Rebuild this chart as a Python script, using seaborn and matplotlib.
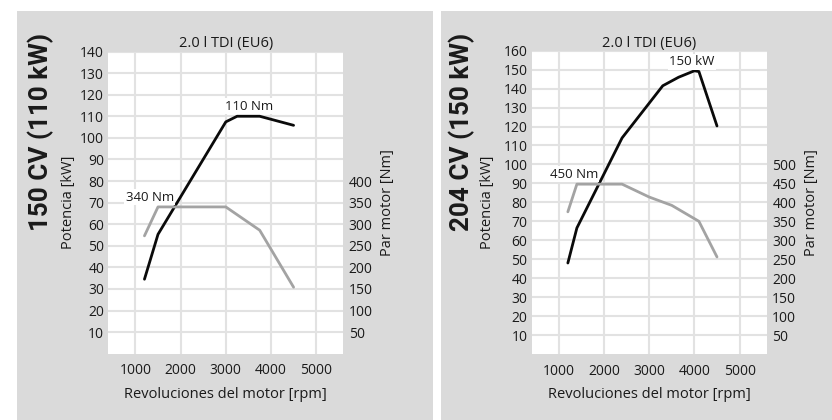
import matplotlib
matplotlib.use("Agg")
import matplotlib.pyplot as plt
import seaborn as sns
from matplotlib.patches import Rectangle

# datos
rpm_150_kw = [1200, 1500, 3000, 3250, 3750, 4500]
kw_150 = [34.5, 55.3, 107.4, 110, 110, 105.8]
rpm_150_nm = [1200, 1500, 3000, 3750, 4500]
nm_150 = [273, 340, 340, 286, 154]

rpm_204_kw = [1200, 1400, 2400, 3300, 3650, 4000, 4100, 4500]
kw_204 = [48, 66.5, 114, 141.5, 146, 149.4, 149, 120.3]
rpm_204_nm = [1200, 1400, 2400, 3000, 3500, 4100, 4500]
nm_204 = [375, 448, 448, 414, 392, 350, 256]

rpm_ticks = [1000, 2000, 3000, 4000, 5000]
kw_ticks_150 = list(range(10, 141, 10))
nm_ticks_150 = list(range(50, 401, 50))
kw_ticks_204 = list(range(10, 161, 10))
nm_ticks_204 = list(range(50, 501, 50))

sns.set_theme(style="white")
plt.rcParams['font.family'] = ['Open Sans', 'DejaVu Sans']

W, H = 832, 420
fig = plt.figure(figsize=(W / 100, H / 100), dpi=100)
fig.patch.set_facecolor('white')

PANEL = '#dadada'
GRID = '#e2e2e2'
BLACK = '#0a0a0a'
GRAY = '#a3a3a3'
TXT = '#1a1a1a'
TICK_FS = 10
LAB_FS = 10.5


def px_rect(x0, y0, x1, y1):
    # pixel box (desde arriba) -> fracciones de figura
    return [x0 / W, (H - y1) / H, (x1 - x0) / W, (y1 - y0) / H]


for x0, x1 in [(17, 433), (441, 832)]:
    fig.patches.append(Rectangle((x0 / W, 0), (x1 - x0) / W, (H - 11) / H,
                                 transform=fig.transFigure, facecolor=PANEL,
                                 edgecolor='none', zorder=-5))


def draw_chart(box, rpm_kw, kw, rpm_nm, nm, kw_max, kw_ticks, nm_ticks,
               big_label, big_x, ann_nm, lab_x):
    ax = fig.add_axes(px_rect(*box))
    ax.set_facecolor('white')
    ax.set_xlim(400, 5600)
    ax.set_ylim(0, kw_max)
    ax.set_xticks(rpm_ticks)
    ax.set_yticks(kw_ticks)
    ax.grid(True, color=GRID, linewidth=1.5)
    ax.set_axisbelow(True)
    for s in ax.spines.values():
        s.set_visible(False)
    ax.tick_params(axis='both', length=0, labelsize=TICK_FS, colors=TXT)
    ax.tick_params(axis='x', pad=7)
    ax.tick_params(axis='y', pad=3)

    sns.lineplot(x=rpm_kw, y=kw, ax=ax, color=BLACK, linewidth=2.0, zorder=3)

    ax2 = ax.twinx()
    ax2.set_ylim(0, kw_max * 5)
    ax2.set_yticks(nm_ticks)
    for s in ax2.spines.values():
        s.set_visible(False)
    ax2.tick_params(axis='y', length=0, labelsize=TICK_FS, colors=TXT, pad=4)
    sns.lineplot(x=rpm_nm, y=nm, ax=ax2, color=GRAY, linewidth=2.0)
    ax2.set_xlim(400, 5600)

    ax.set_title('2.0 l TDI (EU6)', fontsize=LAB_FS, color=TXT, pad=3)
    ax.set_xlabel('')
    ax.set_ylabel('')
    ax2.set_ylabel('')

    bw = box[2] - box[0]
    bh = box[3] - box[1]
    ax.text(0.5, -(395 - box[3]) / bh, 'Revoluciones del motor [rpm]',
            transform=ax.transAxes, ha='center', va='center',
            fontsize=LAB_FS, color=TXT)
    ax.text(-(box[0] - lab_x[0]) / bw, 0.5, 'Potencia [kW]',
            transform=ax.transAxes, rotation=90, ha='center', va='center',
            fontsize=LAB_FS, color=TXT)
    ax.text((lab_x[1] - box[0]) / bw, 0.5, 'Par motor [Nm]',
            transform=ax.transAxes, rotation=90, ha='center', va='center',
            fontsize=LAB_FS, color=TXT)

    bbox = dict(facecolor='white', edgecolor='none', pad=1)
    for (x, y, t) in ann_nm:
        ax.text(x, y, t, ha='center', va='center', fontsize=9.5,
                color=TXT, bbox=bbox, zorder=4)

    fig.text(big_x / W, (H - 33) / H, big_label, rotation=90,
             ha='center', va='top', fontsize=18.7, fontweight='bold',
             family=['Roboto', 'DejaVu Sans'], color=TXT)


draw_chart((108.3, 51.5, 343.3, 353.7), rpm_150_kw, kw_150, rpm_150_nm, nm_150,
           140, kw_ticks_150, nm_ticks_150, '150 CV (110 kW)', 40.5,
           [(1320, 72.4, '340 Nm'), (3510, 114.7, '110 Nm')], (68, 387))

draw_chart((531.7, 50.7, 766.7, 354.0), rpm_204_kw, kw_204, rpm_204_nm, nm_204,
           160, kw_ticks_204, nm_ticks_204, '204 CV (150 kW)', 462,
           [(1330, 94.9, '450 Nm'), (3945, 154.2, '150 kW')], (488, 811))

fig.savefig('out.png', dpi=100, facecolor='white')
